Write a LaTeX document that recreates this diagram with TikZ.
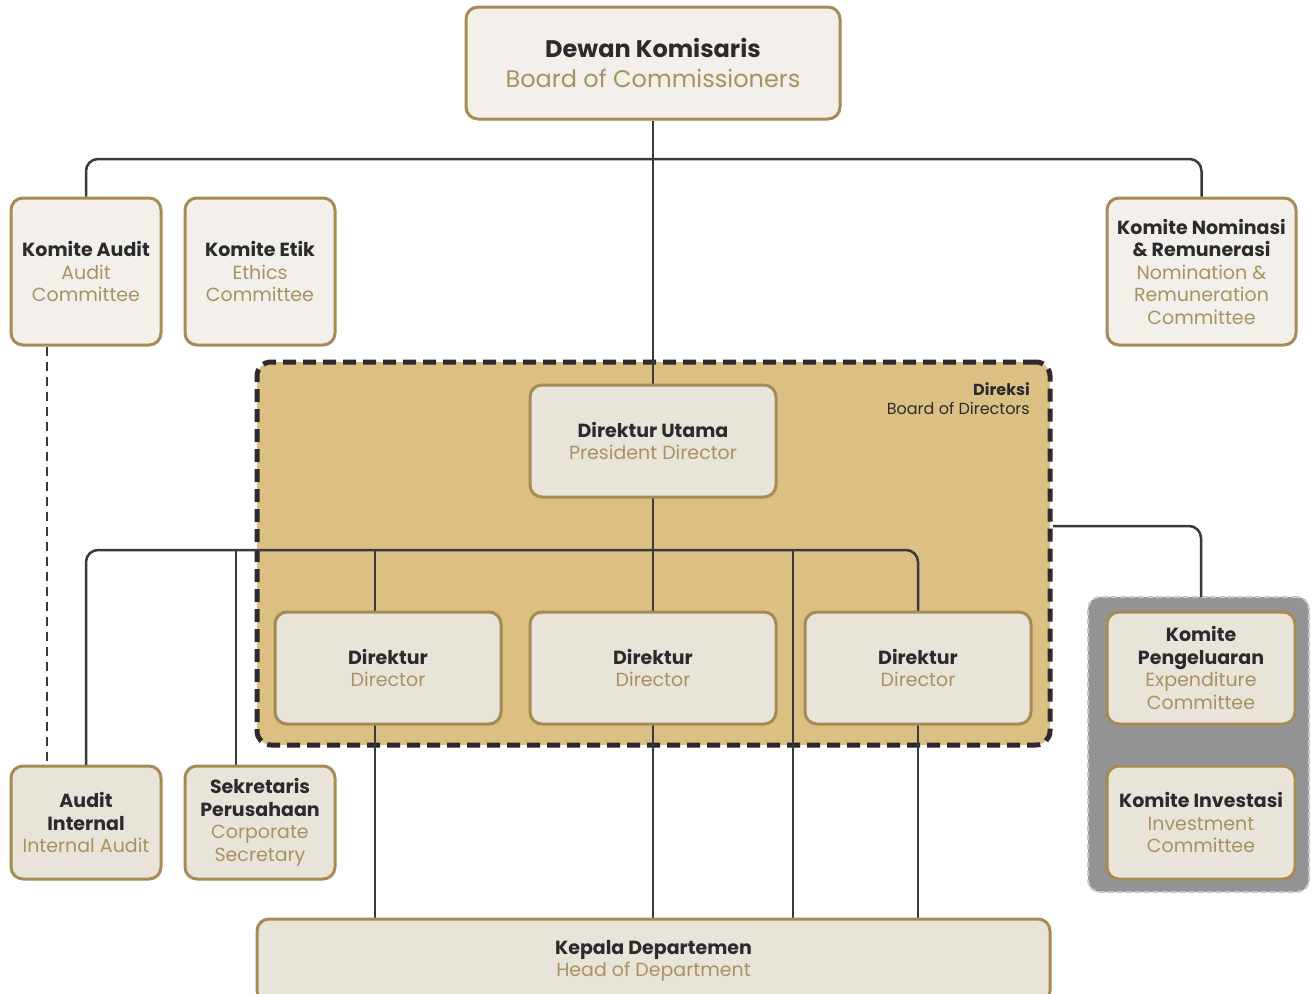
\documentclass[tikz,border=0pt]{standalone}
\usepackage{fontspec}
\setmainfont{Poppins}
\definecolor{gold}{HTML}{A68B55}
\definecolor{subt}{HTML}{A89262}
\definecolor{dark}{HTML}{2B2B2E}
\definecolor{lightfill}{HTML}{F3F0EB}
\definecolor{dirfill}{HTML}{E9E4DA}
\definecolor{direksifill}{HTML}{DCC083}
\definecolor{grayfill}{HTML}{939396}
\definecolor{grayborder}{HTML}{C9C9CB}
\definecolor{conncol}{HTML}{3A3A3C}
\newcommand{\hd}[1]{\textcolor{dark}{\bfseries #1}}
\begin{document}
\begin{tikzpicture}[x=1pt,y=-1pt,
  box/.style={draw=gold, line width=3pt, rounded corners=12pt, align=center,
    inner sep=0pt, text=subt, font=\fontsize{19}{22.5}\selectfont},
  topbox/.style={box, fill=lightfill},
  dirbox/.style={box, fill=dirfill},
  conn/.style={draw=conncol, line width=2.5pt, rounded corners=12pt},
  auditdash/.style={draw=conncol, line width=2.5pt, dash pattern=on 9pt off 6pt}
  ]
\useasboundingbox (0,0) rectangle (1314,993);
\fill[white] (0,0) rectangle (1314,993);

% group backgrounds
\node[draw=dark, line width=5pt, dash pattern=on 13pt off 7pt, fill=direksifill,
  rounded corners=14pt, minimum width=793pt, minimum height=383pt, inner sep=0pt]
  (direksi) at (653.5,553.5) {};
\node[anchor=north east, align=right, inner sep=0pt, text=dark,
  font=\fontsize{16}{19.5}\selectfont] (direksilbl) at (1030,382)
  {\textbf{Direksi}\\Board of Directors};
\node[draw=grayborder, line width=2pt, dash pattern=on 6pt off 3pt, fill=grayfill,
  rounded corners=12pt, minimum width=221pt, minimum height=295pt, inner sep=0pt]
  (gbox) at (1198.5,744.5) {};

% coordinates for connectors
\coordinate (topj) at (653,159);
\coordinate (midj) at (653,550);
\coordinate (xsk) at (236,0);
\coordinate (xd1) at (375,0);
\coordinate (xfree) at (793,550);
\coordinate (xaud) at (47,0);
\coordinate (rj) at (1053,526);

% nodes
\node[topbox, minimum width=374pt, minimum height=112pt,
  font=\fontsize{24}{30}\selectfont] (dk) at (653,63)
  {\hd{Dewan Komisaris}\\Board of Commissioners};
\node[topbox, minimum width=150pt, minimum height=147pt] (ka) at (86,271.5)
  {\hd{Komite Audit}\\Audit\\Committee};
\node[topbox, minimum width=150pt, minimum height=147pt] (ke) at (260,271.5)
  {\hd{Komite Etik}\\Ethics\\Committee};
\node[topbox, minimum width=189pt, minimum height=147pt] (kn) at (1201.5,271.5)
  {\hd{Komite Nominasi}\\\hd{\& Remunerasi}\\Nomination \&\\Remuneration\\Committee};

% connectors
\draw[conn] (ka.north) |- (topj) -| (kn.north);
\draw[conn] (dk.south) -- (topj);
\draw[conn] (topj) -- (653,384);
\draw[auditdash] (ka.south -| xaud) -- (xaud |- 0,765);

\draw[conn] (86,765) |- (midj) -| (918,611);
\draw[conn] (xsk |- midj) -- (236,765);
\draw[conn] (xd1 |- midj) -- (375,611);
\draw[conn] (653,496) -- (653,611);
\draw[conn] (xfree) -- (793,918);
\draw[conn] (375,723) -- (375,918);
\draw[conn] (653,723) -- (653,918);
\draw[conn] (918,723) -- (918,918);
\draw[conn] (rj) -| (1201,597);

\node[dirbox, minimum width=246pt, minimum height=112pt] (du) at (653,441)
  {\hd{Direktur Utama}\\President Director};
\node[dirbox, minimum width=226pt, minimum height=112pt] (d1) at (388,668)
  {\hd{Direktur}\\Director};
\node[dirbox, minimum width=246pt, minimum height=112pt] (d2) at (653,668)
  {\hd{Direktur}\\Director};
\node[dirbox, minimum width=226pt, minimum height=112pt] (d3) at (918,668)
  {\hd{Direktur}\\Director};
\node[dirbox, minimum width=150pt, minimum height=113pt] (ai) at (86,822.5)
  {\hd{Audit}\\\hd{Internal}\\Internal Audit};
\node[dirbox, minimum width=150pt, minimum height=113pt] (sk) at (260,822.5)
  {\hd{Sekretaris}\\\hd{Perusahaan}\\Corporate\\Secretary};
\node[dirbox, minimum width=188pt, minimum height=112pt] (kp) at (1201,668)
  {\hd{Komite}\\\hd{Pengeluaran}\\Expenditure\\Committee};
\node[dirbox, minimum width=188pt, minimum height=113pt] (ki) at (1201,822.5)
  {\hd{Komite Investasi}\\Investment\\Committee};
\node[dirbox, minimum width=793pt, minimum height=84pt] (kd) at (653.5,961)
  {\hd{Kepala Departemen}\\Head of Department};
\end{tikzpicture}
\end{document}
